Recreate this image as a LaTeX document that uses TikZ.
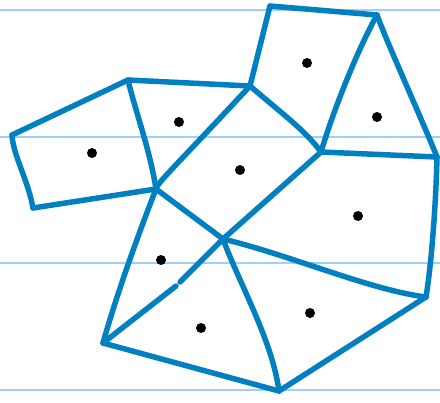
\documentclass[tikz,border=0pt]{standalone}
\usepackage{tikz}
\usetikzlibrary{calc}

\definecolor{edgeblue}{RGB}{0,128,192}
\definecolor{ruleblue}{RGB}{160,205,250}

\begin{document}
\begin{tikzpicture}[
    x=0.025cm, y=-0.025cm,
    ruling/.style={draw=ruleblue, line width=1.2pt},
    cell/.style={draw=edgeblue, line width=3.9pt, line cap=round, line join=round},
    site/.style={circle, fill=black, inner sep=0pt, minimum size=0.25cm}
]
\useasboundingbox (0,0) rectangle (440,402);

% Ruled paper
\foreach \y/\name in {10/ra, 137/rb, 263/rc, 390/rd} {
    \coordinate (\name w) at (0,\y);
    \coordinate (\name e) at (440,\y);
    \draw[ruling] (\name w) -- (\name e);
}

% Vertices
\coordinate (a) at (12,135);
\coordinate (b) at (128,80);
\coordinate (c) at (156,189);
\coordinate (d) at (33,208);
\coordinate (e) at (250,86);
\coordinate (f) at (270,6);
\coordinate (g) at (377,15);
\coordinate (h) at (321,152);
\coordinate (i) at (437,157);
\coordinate (j) at (223,239);
\coordinate (k) at (426,297);
\coordinate (l) at (279,391);
\coordinate (m) at (103,343);
\coordinate (gap1) at (176,286);
\coordinate (gap2) at (180,282);

% Sites
\node[site] (s1) at (92,153) {};
\node[site] (s2) at (179,122) {};
\node[site] (s3) at (307,63) {};
\node[site] (s4) at (377,117) {};
\node[site] (s5) at (240,170) {};
\node[site] (s6) at (358,216) {};
\node[site] (s7) at (161,260) {};
\node[site] (s8) at (201,328) {};
\node[site] (s9) at (310,313) {};

% Left cell
\draw[cell] (a) .. controls (13,155) and (28,180) .. (d);
\draw[cell] (d) -- (c);
\draw[cell] (a) -- (b);
\draw[cell] (b) .. controls (135,110) and (150,150) .. (c);
\draw[cell] (b) -- (e);

% Middle cells
\draw[cell] (c) .. controls (158,182) and (170,172) .. (e);
\draw[cell] (e) .. controls (280,112) and (305,130) .. (h);
\draw[cell] (h) -- (j);
\draw[cell] (c) -- (j);

% Top cells
\draw[cell] (e) -- (f);
\draw[cell] (f) -- (g);
\draw[cell] (g) .. controls (360,45) and (335,105) .. (h);
\draw[cell] (g) .. controls (388,45) and (420,115) .. (i);
\draw[cell] (h) -- (i);

% Right and lower cells
\draw[cell] (i) .. controls (436,200) and (432,260) .. (k);
\draw[cell] (j) .. controls (290,255) and (370,290) .. (k);
\draw[cell] (k) -- (l);
\draw[cell] (j) .. controls (240,285) and (272,340) .. (l);
\draw[cell] (m) -- (l);
\draw[cell] (c) .. controls (140,230) and (118,290) .. (m);
\draw[cell] (j) -- (gap2);
\draw[cell] (gap1) -- (m);

\end{tikzpicture}
\end{document}
